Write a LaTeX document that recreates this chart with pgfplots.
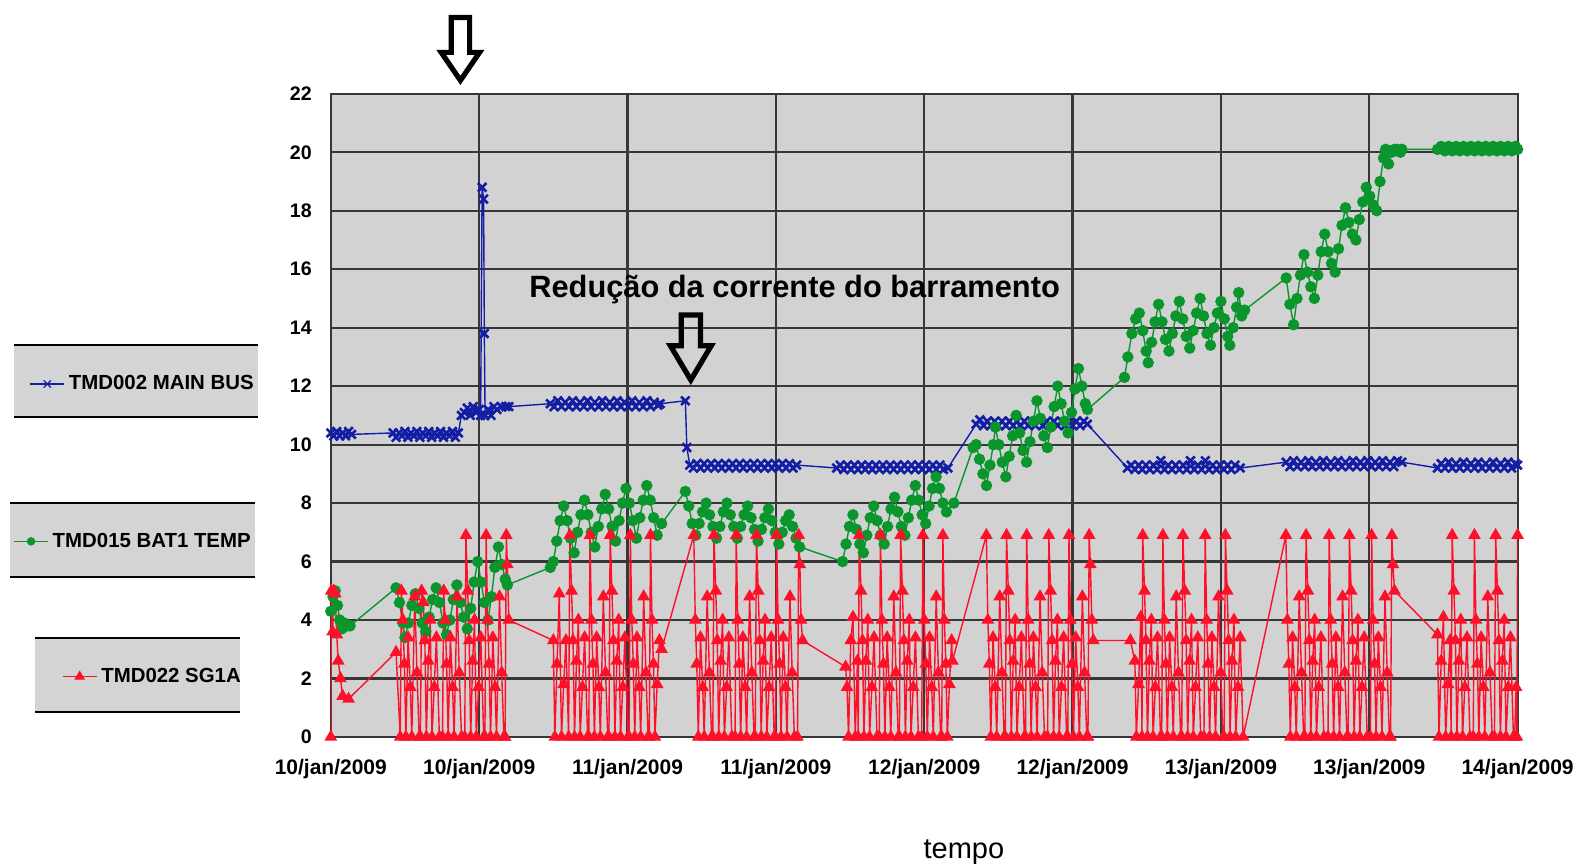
\documentclass[border=0pt]{standalone}
\usepackage{fontspec}
\setmainfont{Liberation Sans}
\usepackage{pgfplots}
\pgfplotsset{compat=1.18}
\definecolor{plotbg}{RGB}{210,210,210}
\definecolor{legbg}{RGB}{212,212,212}
\definecolor{gridc}{RGB}{55,55,55}
\definecolor{busblue}{RGB}{20,30,165}
\definecolor{batgreen}{RGB}{10,150,45}
\definecolor{sgred}{RGB}{255,15,40}
\begin{document}
\begin{tikzpicture}
\useasboundingbox (0,0) rectangle (790.5pt,433pt);
% legend boxes
\fill[legbg] (7.06pt,224.3pt) rectangle (129.1pt,260.6pt);
\draw[line width=0.9pt] (7.06pt,260.6pt) -- (129.1pt,260.6pt);
\draw[line width=0.9pt] (7.06pt,224.3pt) -- (129.1pt,224.3pt);
\fill[legbg] (5.04pt,144.6pt) rectangle (127.6pt,181.4pt);
\draw[line width=0.9pt] (5.04pt,181.4pt) -- (127.6pt,181.4pt);
\draw[line width=0.9pt] (5.04pt,144.6pt) -- (127.6pt,144.6pt);
\fill[legbg] (17.6pt,77.1pt) rectangle (120pt,113.9pt);
\draw[line width=0.9pt] (17.6pt,113.9pt) -- (120pt,113.9pt);
\draw[line width=0.9pt] (17.6pt,77.1pt) -- (120pt,77.1pt);
\begin{axis}[
 scale only axis, width=593.4pt, height=321.6pt,
 at={(165.4pt,64.5pt)}, anchor=south west,
 xmin=0, xmax=8, ymin=0, ymax=22,
 xtick={0,1,2,3,4,5,6,7,8}, ytick={0,2,...,22},
 xticklabels={10/jan/2009,10/jan/2009,11/jan/2009,11/jan/2009,12/jan/2009,12/jan/2009,13/jan/2009,13/jan/2009,14/jan/2009},
 grid=major, major grid style={gridc, line width=1.1pt},
 axis line style={gridc, line width=1.1pt},
 axis background/.style={fill=plotbg},
 major tick length=0pt,
 xticklabel style={font=\bfseries\fontsize{10.5}{12}\selectfont, anchor=base, yshift=-18.7pt},
 yticklabel style={font=\bfseries\fontsize{9.8}{11}\selectfont, anchor=east, xshift=-6pt},
 /pgf/number format/assume math mode=true,
 xlabel={tempo},
 xlabel style={font=\fontsize{14.5}{16}\selectfont, at={(axis description cs:0.5335,0)}, anchor=base, yshift=-61pt},
]
% TMD002 MAIN BUS
\addplot[busblue, line width=0.7pt, mark=x, mark size=3pt, mark options={line width=1.3pt}] coordinates {
(0,10.4)(0.02,10.3)(0.04,10.45)(0.06,10.3)(0.08,10.4)(0.10,10.3)(0.12,10.45)(0.14,10.35)
(0.42,10.4)(0.44,10.25)(0.46,10.4)(0.48,10.3)(0.50,10.45)(0.52,10.25)(0.54,10.4)(0.56,10.3)(0.58,10.45)(0.60,10.25)(0.62,10.4)(0.64,10.3)(0.66,10.45)(0.68,10.25)(0.70,10.4)(0.72,10.3)(0.74,10.45)(0.76,10.25)(0.78,10.4)(0.80,10.3)(0.82,10.45)(0.84,10.25)(0.86,10.4)
(0.88,11.0)(0.90,11.1)(0.92,11.25)(0.94,11.0)(0.96,11.3)(0.98,11.1)(1.00,11.2)(1.01,11.0)(1.02,18.8)(1.03,18.4)(1.035,13.8)(1.04,11.0)(1.06,11.2)(1.08,11.0)(1.10,11.3)(1.12,11.2)(1.15,11.3)(1.18,11.3)(1.20,11.3)
(1.48,11.4)(1.505,11.3)(1.53,11.5)(1.555,11.3)(1.58,11.45)(1.605,11.3)(1.63,11.5)(1.655,11.3)(1.68,11.45)(1.705,11.3)(1.73,11.5)(1.755,11.3)(1.78,11.45)(1.805,11.3)(1.83,11.5)(1.855,11.3)(1.88,11.45)(1.905,11.3)(1.93,11.5)(1.955,11.3)(1.98,11.45)(2.005,11.3)(2.03,11.5)(2.055,11.3)(2.08,11.45)(2.105,11.3)(2.13,11.5)(2.155,11.3)(2.18,11.45)(2.205,11.35)(2.22,11.4)
(2.39,11.5)(2.40,9.9)(2.42,9.3)
(2.444,9.2)(2.468,9.35)(2.492,9.2)(2.516,9.35)(2.54,9.2)(2.564,9.35)(2.588,9.2)(2.612,9.35)(2.636,9.2)(2.66,9.35)(2.684,9.2)(2.708,9.35)(2.732,9.2)(2.756,9.35)(2.78,9.2)(2.804,9.35)(2.828,9.2)(2.852,9.35)(2.876,9.2)(2.9,9.35)(2.924,9.2)(2.948,9.35)(2.972,9.2)(2.996,9.35)(3.02,9.2)(3.044,9.35)(3.068,9.2)(3.092,9.35)(3.116,9.2)(3.14,9.3)
(3.41,9.2)(3.434,9.3)(3.458,9.15)(3.482,9.3)(3.506,9.15)(3.53,9.3)(3.554,9.15)(3.578,9.3)(3.602,9.15)(3.626,9.3)(3.65,9.15)(3.674,9.3)(3.698,9.15)(3.722,9.3)(3.746,9.15)(3.77,9.3)(3.794,9.15)(3.818,9.3)(3.842,9.15)(3.866,9.3)(3.89,9.15)(3.914,9.3)(3.938,9.15)(3.962,9.3)(3.986,9.15)(4.01,9.3)(4.034,9.15)(4.058,9.3)(4.082,9.15)(4.106,9.3)(4.13,9.15)(4.16,9.2)
(4.35,10.7)(4.375,10.85)(4.40,10.65)(4.425,10.8)(4.45,10.65)(4.475,10.8)(4.50,10.65)(4.525,10.8)(4.55,10.65)(4.575,10.8)(4.60,10.65)(4.625,10.8)(4.65,10.65)(4.675,10.8)(4.70,10.65)(4.725,10.8)(4.75,10.65)(4.775,10.8)(4.80,10.65)(4.825,10.8)(4.85,10.65)(4.875,10.8)(4.90,10.65)(4.925,10.8)(4.95,10.65)(4.975,10.8)(5.00,10.65)(5.025,10.8)(5.05,10.65)(5.075,10.8)(5.10,10.7)
(5.37,9.2)(5.395,9.3)(5.42,9.15)(5.445,9.3)(5.47,9.15)(5.495,9.3)(5.52,9.15)(5.545,9.3)(5.57,9.15)(5.595,9.45)(5.62,9.15)(5.645,9.3)(5.67,9.15)(5.695,9.3)(5.72,9.15)(5.745,9.3)(5.77,9.15)(5.795,9.45)(5.82,9.15)(5.845,9.3)(5.87,9.15)(5.895,9.45)(5.92,9.15)(5.945,9.3)(5.97,9.15)(5.995,9.3)(6.02,9.15)(6.045,9.3)(6.07,9.15)(6.095,9.3)(6.13,9.2)
(6.44,9.4)(6.465,9.25)(6.49,9.45)(6.515,9.25)(6.54,9.4)(6.565,9.25)(6.59,9.45)(6.615,9.25)(6.64,9.4)(6.665,9.25)(6.69,9.45)(6.715,9.25)(6.74,9.4)(6.765,9.25)(6.79,9.45)(6.815,9.25)(6.84,9.4)(6.865,9.25)(6.89,9.45)(6.915,9.25)(6.94,9.4)(6.965,9.25)(6.99,9.45)(7.015,9.25)(7.04,9.4)(7.065,9.25)(7.09,9.45)(7.115,9.25)(7.14,9.4)(7.165,9.25)(7.19,9.45)(7.22,9.4)
(7.46,9.2)(7.485,9.35)(7.51,9.2)(7.535,9.4)(7.56,9.2)(7.585,9.35)(7.61,9.2)(7.635,9.4)(7.66,9.2)(7.685,9.35)(7.71,9.2)(7.735,9.4)(7.76,9.2)(7.785,9.35)(7.81,9.2)(7.835,9.4)(7.86,9.2)(7.885,9.35)(7.91,9.2)(7.935,9.4)(7.96,9.2)(7.985,9.35)(8.0,9.3)
};
% TMD015 BAT1 TEMP
\addplot[batgreen, line width=0.7pt, mark=*, mark size=2.5pt] coordinates {
(0.0,4.3)(0.015,4.8)(0.03,5.0)(0.045,4.5)(0.06,4.0)(0.075,3.7)(0.09,3.9)(0.11,3.8)(0.13,3.8)
(0.44,5.1)(0.463,4.6)(0.486,3.9)(0.50,3.4)(0.523,3.9)(0.546,4.5)(0.57,4.9)(0.593,4.4)(0.616,3.9)(0.64,3.6)(0.663,4.1)(0.686,4.7)(0.71,5.1)(0.733,4.6)(0.756,3.9)(0.78,3.5)(0.803,4.0)(0.826,4.7)(0.85,5.2)(0.873,4.6)(0.896,4.1)(0.92,3.7)(0.943,4.4)(0.966,5.3)(0.99,6.0)(1.013,5.3)(1.036,4.6)(1.06,4.0)(1.083,4.8)(1.106,5.8)(1.13,6.5)(1.153,5.9)(1.176,5.4)(1.19,5.2)
(1.48,5.8)(1.50,6.0)(1.523,6.7)(1.546,7.4)(1.57,7.9)(1.593,7.4)(1.616,6.8)(1.64,6.3)(1.663,7.0)(1.686,7.6)(1.71,8.1)(1.733,7.6)(1.756,7.0)(1.78,6.5)(1.803,7.2)(1.826,7.8)(1.85,8.3)(1.873,7.8)(1.896,7.2)(1.92,6.7)(1.943,7.4)(1.966,8.0)(1.99,8.5)(2.013,8.0)(2.036,7.4)(2.06,6.8)(2.083,7.5)(2.106,8.1)(2.13,8.6)(2.153,8.1)(2.176,7.5)(2.20,6.9)(2.23,7.3)
(2.39,8.4)(2.413,7.9)(2.436,7.3)(2.46,6.9)(2.483,7.3)(2.506,7.7)(2.53,8.0)(2.553,7.6)(2.576,7.2)(2.60,6.8)(2.623,7.2)(2.646,7.7)(2.67,8.0)(2.693,7.6)(2.716,7.2)(2.74,6.8)(2.763,7.2)(2.786,7.6)(2.81,7.9)(2.833,7.5)(2.856,7.1)(2.88,6.7)(2.903,7.1)(2.926,7.5)(2.95,7.8)(2.973,7.4)(2.996,7.0)(3.02,6.6)(3.043,7.0)(3.066,7.4)(3.09,7.6)(3.113,7.2)(3.136,6.8)(3.16,6.5)
(3.45,6.0)(3.473,6.6)(3.496,7.2)(3.52,7.6)(3.543,7.1)(3.566,6.6)(3.59,6.3)(3.613,6.9)(3.636,7.5)(3.66,7.9)(3.683,7.4)(3.706,6.9)(3.73,6.6)(3.753,7.2)(3.776,7.8)(3.80,8.2)(3.823,7.7)(3.846,7.2)(3.87,6.9)(3.893,7.5)(3.916,8.1)(3.94,8.6)(3.963,8.1)(3.986,7.6)(4.01,7.3)(4.033,7.9)(4.056,8.5)(4.08,8.9)(4.103,8.5)(4.126,8.0)(4.15,7.7)(4.20,8.0)
(4.33,9.9)(4.35,10.0)(4.373,9.5)(4.396,9.0)(4.42,8.6)(4.443,9.3)(4.466,10.0)(4.48,10.6)(4.503,10.0)(4.526,9.4)(4.55,8.9)(4.573,9.6)(4.596,10.3)(4.62,11.0)(4.643,10.4)(4.666,9.8)(4.69,9.4)(4.713,10.1)(4.736,10.8)(4.76,11.5)(4.783,10.9)(4.806,10.3)(4.83,9.9)(4.853,10.6)(4.876,11.3)(4.90,12.0)(4.923,11.4)(4.946,10.8)(4.97,10.4)(4.993,11.1)(5.016,11.9)(5.04,12.6)(5.063,12.0)(5.086,11.4)(5.10,11.2)
(5.35,12.3)(5.373,13.0)(5.40,13.8)(5.425,14.3)(5.45,14.5)(5.473,13.9)(5.496,13.2)(5.51,12.8)(5.533,13.5)(5.556,14.2)(5.58,14.8)(5.603,14.2)(5.626,13.6)(5.65,13.2)(5.673,13.8)(5.696,14.4)(5.72,14.9)(5.743,14.3)(5.766,13.7)(5.79,13.3)(5.813,13.9)(5.836,14.5)(5.86,15.0)(5.883,14.4)(5.906,13.8)(5.93,13.4)(5.953,14.0)(5.976,14.5)(6.00,14.9)(6.023,14.3)(6.046,13.7)(6.06,13.4)(6.083,14.0)(6.106,14.7)(6.12,15.2)(6.14,14.4)(6.16,14.6)
(6.44,15.7)(6.465,14.8)(6.49,14.1)(6.513,15.0)(6.536,15.8)(6.56,16.5)(6.583,15.9)(6.606,15.4)(6.63,15.0)(6.653,15.8)(6.676,16.6)(6.70,17.2)(6.723,16.6)(6.746,16.2)(6.77,15.9)(6.793,16.7)(6.816,17.5)(6.84,18.1)(6.863,17.6)(6.886,17.2)(6.91,17.0)(6.933,17.7)(6.956,18.3)(6.98,18.8)(7.003,18.5)(7.026,18.2)(7.05,18.0)(7.073,19.0)(7.096,19.8)(7.11,20.1)(7.13,19.6)(7.15,20.0)(7.17,20.1)(7.19,20.1)(7.21,20.0)(7.22,20.1)
(7.46,20.1)(7.485,20.2)(7.51,20.05)(7.535,20.2)(7.56,20.05)(7.585,20.2)(7.61,20.05)(7.635,20.2)(7.66,20.05)(7.685,20.2)(7.71,20.05)(7.735,20.2)(7.76,20.05)(7.785,20.2)(7.81,20.05)(7.835,20.2)(7.86,20.05)(7.885,20.2)(7.91,20.05)(7.935,20.2)(7.96,20.05)(7.985,20.2)(8.0,20.1)
};
% TMD022 SG1A
\addplot[sgred, line width=0.7pt, mark=triangle*, mark size=3pt] coordinates {
(0,0)(0.004,5.0)(0.012,3.6)(0.02,5.0)(0.03,4.9)(0.04,3.5)(0.05,2.6)(0.065,2.0)(0.08,1.4)(0.12,1.3)
(0.44,2.9)
(0.468,0)(0.476,5.0)(0.486,4.0)(0.496,2.5)(0.506,0)(0.521,3.4)(0.536,1.7)(0.546,0)(0.566,4.8)(0.581,2.2)(0.596,0)
(0.604,0)(0.612,5.0)(0.624,4.6)(0.634,3.3)(0.644,0)(0.657,2.6)(0.67,4.0)(0.682,0)(0.697,1.7)(0.712,3.4)(0.732,0)
(0.753,0)(0.761,5.0)(0.771,4.0)(0.781,2.5)(0.791,0)(0.806,3.4)(0.821,1.7)(0.831,0)(0.851,4.8)(0.866,2.2)(0.881,0)
(0.903,0)(0.911,6.9)(0.923,5.0)(0.933,3.3)(0.943,0)(0.956,2.6)(0.969,4.0)(0.981,0)(0.996,1.7)(1.011,3.4)(1.031,0)
(1.039,0)(1.047,6.9)(1.057,4.0)(1.067,2.5)(1.077,0)(1.092,3.4)(1.107,1.7)(1.117,0)(1.137,4.8)(1.152,2.2)(1.167,0)
(1.175,0)(1.183,6.9)(1.19,5.9)(1.20,4.0)
(1.50,3.3)(1.51,0)(1.525,2.5)(1.54,4.9)(1.555,0)(1.57,1.8)(1.585,3.3)
(1.603,0)(1.611,6.9)(1.623,5.0)(1.633,3.3)(1.643,0)(1.656,2.6)(1.669,4.0)(1.681,0)(1.696,1.7)(1.711,3.4)(1.731,0)
(1.739,0)(1.747,6.9)(1.757,4.0)(1.767,2.5)(1.777,0)(1.792,3.4)(1.807,1.7)(1.817,0)(1.837,4.8)(1.852,2.2)(1.867,0)
(1.875,0)(1.883,6.9)(1.895,5.0)(1.905,3.3)(1.915,0)(1.928,2.6)(1.941,4.0)(1.953,0)(1.968,1.7)(1.983,3.4)(2.003,0)
(2.011,0)(2.019,6.9)(2.029,4.0)(2.039,2.5)(2.049,0)(2.064,3.4)(2.079,1.7)(2.089,0)(2.109,4.8)(2.124,2.2)(2.139,0)
(2.147,0)(2.155,6.9)(2.165,4.0)(2.175,2.5)(2.185,0)(2.20,1.8)(2.215,3.3)(2.23,3.0)
(2.447,6.9)(2.457,4.0)(2.467,2.5)(2.477,0)(2.492,3.4)(2.507,1.7)(2.517,0)(2.537,4.8)(2.552,2.2)(2.567,0)
(2.575,0)(2.583,6.9)(2.595,5.0)(2.605,3.3)(2.615,0)(2.628,2.6)(2.641,4.0)(2.653,0)(2.668,1.7)(2.683,3.4)(2.703,0)
(2.725,0)(2.733,6.9)(2.743,4.0)(2.753,2.5)(2.763,0)(2.778,3.4)(2.793,1.7)(2.803,0)(2.823,4.8)(2.838,2.2)(2.853,0)
(2.861,0)(2.869,6.9)(2.881,5.0)(2.891,3.3)(2.901,0)(2.914,2.6)(2.927,4.0)(2.939,0)(2.954,1.7)(2.969,3.4)(2.989,0)
(2.997,0)(3.005,6.9)(3.015,4.0)(3.025,2.5)(3.035,0)(3.05,3.4)(3.065,1.7)(3.075,0)(3.095,4.8)(3.11,2.2)(3.125,0)
(3.146,0)(3.154,6.9)(3.162,5.9)(3.17,4.0)(3.18,3.3)
(3.47,2.4)(3.48,1.7)(3.49,0)(3.505,3.3)(3.52,4.1)(3.535,0)(3.55,2.6)
(3.555,0)(3.562,6.9)(3.574,5.0)(3.584,3.3)(3.594,0)(3.607,2.6)(3.62,4.0)(3.632,0)(3.647,1.7)(3.662,3.4)(3.682,0)
(3.697,0)(3.705,6.9)(3.715,4.0)(3.725,2.5)(3.735,0)(3.75,3.4)(3.765,1.7)(3.775,0)(3.795,4.8)(3.81,2.2)(3.825,0)
(3.833,0)(3.841,6.9)(3.853,5.0)(3.863,3.3)(3.873,0)(3.886,2.6)(3.899,4.0)(3.911,0)(3.926,1.7)(3.941,3.4)(3.961,0)
(3.983,0)(3.991,6.9)(4.001,4.0)(4.011,2.5)(4.021,0)(4.036,3.4)(4.051,1.7)(4.061,0)(4.081,4.8)(4.096,2.2)(4.111,0)
(4.118,0)(4.126,6.9)(4.136,4.0)(4.146,2.5)(4.156,0)(4.17,1.8)(4.185,3.3)(4.19,2.6)
(4.419,6.9)(4.429,4.0)(4.439,2.5)(4.449,0)(4.464,3.4)(4.479,1.7)(4.489,0)(4.509,4.8)(4.524,2.2)(4.539,0)
(4.547,0)(4.555,6.9)(4.567,5.0)(4.577,3.3)(4.587,0)(4.6,2.6)(4.613,4.0)(4.625,0)(4.64,1.7)(4.655,3.4)(4.675,0)
(4.683,0)(4.691,6.9)(4.701,4.0)(4.711,2.5)(4.721,0)(4.736,3.4)(4.751,1.7)(4.761,0)(4.781,4.8)(4.796,2.2)(4.811,0)
(4.832,0)(4.84,6.9)(4.852,5.0)(4.862,3.3)(4.872,0)(4.885,2.6)(4.898,4.0)(4.91,0)(4.925,1.7)(4.94,3.4)(4.96,0)
(4.968,0)(4.976,6.9)(4.986,4.0)(4.996,2.5)(5.006,0)(5.021,3.4)(5.036,1.7)(5.046,0)(5.066,4.8)(5.081,2.2)(5.096,0)
(5.104,0)(5.112,6.9)(5.12,5.9)(5.13,4.0)(5.14,3.3)
(5.39,3.3)(5.42,2.6)(5.43,0)(5.445,1.8)(5.46,4.1)(5.468,0)
(5.473,6.9)(5.485,5.0)(5.495,3.3)(5.505,0)(5.518,2.6)(5.531,4.0)(5.543,0)(5.558,1.7)(5.573,3.4)(5.593,0)
(5.601,0)(5.609,6.9)(5.619,4.0)(5.629,2.5)(5.639,0)(5.654,3.4)(5.669,1.7)(5.679,0)(5.699,4.8)(5.714,2.2)(5.729,0)
(5.736,0)(5.744,6.9)(5.756,5.0)(5.766,3.3)(5.776,0)(5.789,2.6)(5.802,4.0)(5.814,0)(5.829,1.7)(5.844,3.4)(5.864,0)
(5.886,0)(5.894,6.9)(5.904,4.0)(5.914,2.5)(5.924,0)(5.939,3.4)(5.954,1.7)(5.964,0)(5.984,4.8)(5.999,2.2)(6.014,0)
(6.022,0)(6.03,6.9)(6.042,5.0)(6.052,3.3)(6.062,0)(6.075,2.6)(6.088,4.0)(6.1,0)(6.115,1.7)(6.13,3.4)(6.15,0)
(6.438,6.9)(6.448,4.0)(6.458,2.5)(6.468,0)(6.483,3.4)(6.498,1.7)(6.508,0)(6.528,4.8)(6.543,2.2)(6.558,0)
(6.566,0)(6.574,6.9)(6.586,5.0)(6.596,3.3)(6.606,0)(6.619,2.6)(6.632,4.0)(6.644,0)(6.659,1.7)(6.674,3.4)(6.694,0)
(6.722,0)(6.73,6.9)(6.74,4.0)(6.75,2.5)(6.76,0)(6.775,3.4)(6.79,1.7)(6.8,0)(6.82,4.8)(6.835,2.2)(6.85,0)
(6.858,0)(6.866,6.9)(6.878,5.0)(6.888,3.3)(6.898,0)(6.911,2.6)(6.924,4.0)(6.936,0)(6.951,1.7)(6.966,3.4)(6.986,0)
(7.008,0)(7.016,6.9)(7.026,4.0)(7.036,2.5)(7.046,0)(7.061,3.4)(7.076,1.7)(7.086,0)(7.106,4.8)(7.121,2.2)(7.136,0)
(7.144,0)(7.152,6.9)(7.16,5.9)(7.17,5.0)
(7.46,3.5)(7.47,0)(7.485,2.6)(7.50,4.1)(7.515,0)(7.53,1.8)(7.545,3.3)(7.552,0)
(7.559,6.9)(7.571,5.0)(7.581,3.3)(7.591,0)(7.604,2.6)(7.617,4.0)(7.629,0)(7.644,1.7)(7.659,3.4)(7.679,0)
(7.701,0)(7.709,6.9)(7.719,4.0)(7.729,2.5)(7.739,0)(7.754,3.4)(7.769,1.7)(7.779,0)(7.799,4.8)(7.814,2.2)(7.829,0)
(7.844,0)(7.852,6.9)(7.864,5.0)(7.874,3.3)(7.884,0)(7.897,2.6)(7.91,4.0)(7.922,0)(7.937,1.7)(7.952,3.4)(7.972,0)
(7.98,0)(7.99,1.7)(7.995,0)(8.0,6.9)
};
\end{axis}
% legend entries
\begin{axis}[hide axis, scale only axis, width=1pt, height=1pt, xmin=0, xmax=1, ymin=0, ymax=1,
 at={(14.6pt,240.5pt)}, anchor=south west,
 legend style={at={(0,0.5)}, anchor=west, draw=none, fill=none, inner xsep=0pt, inner ysep=0pt, font=\bfseries\fontsize{10.2}{12}\selectfont}]
\addlegendimage{busblue, line width=0.6pt, mark=x, mark size=2.5pt}
\addlegendentry{TMD002 MAIN BUS}
\end{axis}
\begin{axis}[hide axis, scale only axis, width=1pt, height=1pt, xmin=0, xmax=1, ymin=0, ymax=1,
 at={(6.5pt,161.8pt)}, anchor=south west,
 legend style={at={(0,0.5)}, anchor=west, draw=none, fill=none, inner xsep=0pt, inner ysep=0pt, font=\bfseries\fontsize{10.2}{12}\selectfont}]
\addlegendimage{batgreen, line width=0.6pt, mark=*, mark size=1.8pt}
\addlegendentry{TMD015 BAT1 TEMP}
\end{axis}
\begin{axis}[hide axis, scale only axis, width=1pt, height=1pt, xmin=0, xmax=1, ymin=0, ymax=1,
 at={(30.8pt,94.2pt)}, anchor=south west,
 legend style={at={(0,0.5)}, anchor=west, draw=none, fill=none, inner xsep=0pt, inner ysep=0pt, font=\bfseries\fontsize{10.2}{12}\selectfont}]
\addlegendimage{sgred, line width=0.6pt, mark=triangle*, mark size=2.5pt}
\addlegendentry{TMD022 SG1A}
\end{axis}
% annotations
\node[anchor=base, font=\bfseries\fontsize{15.4}{18}\selectfont] at (397.3pt,284.3pt) {Redução da corrente do barramento};
\draw[line width=2.6pt, line join=miter, miter limit=3]
 (225.6pt,424.2pt) -- (234.8pt,424.2pt) -- (234.8pt,406.8pt) -- (239.8pt,406.8pt) -- (230.2pt,392.8pt) -- (220.6pt,406.8pt) -- (225.6pt,406.8pt) -- cycle;
\draw[line width=2.6pt, line join=miter, miter limit=3]
 (340.6pt,275.5pt) -- (350.2pt,275.5pt) -- (350.2pt,260.1pt) -- (355.6pt,260.1pt) -- (345.4pt,243.0pt) -- (335.2pt,260.1pt) -- (340.6pt,260.1pt) -- cycle;
\end{tikzpicture}
\end{document}
